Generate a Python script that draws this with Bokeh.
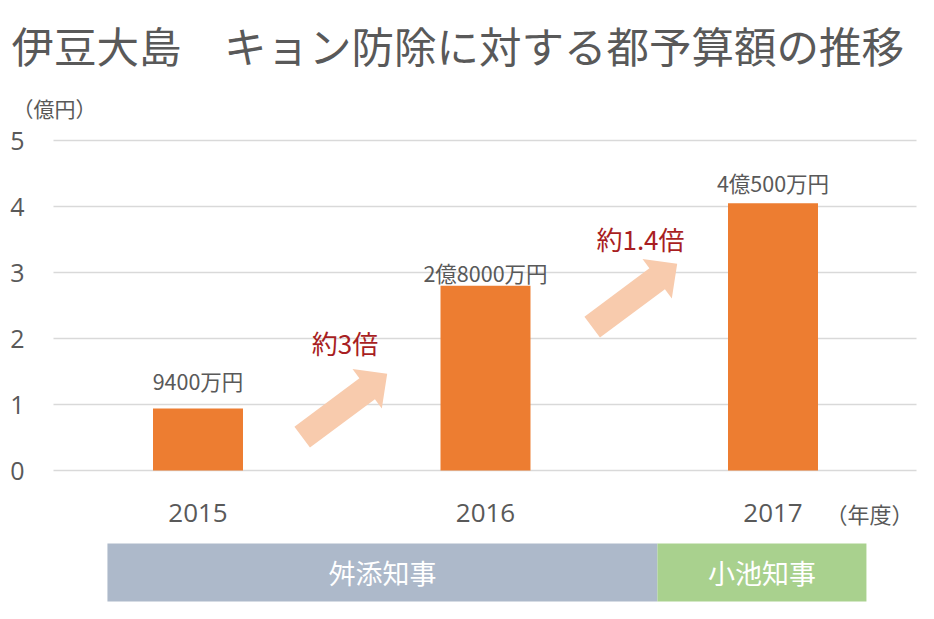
import math
from bokeh.plotting import figure
from bokeh.models import Range1d
from bokeh.core.properties import value
from bokeh.embed import file_html
from bokeh.resources import INLINE

# ---------------- data ----------------
title_text = "伊豆大島　キョン防除に対する都予算額の推移"
unit_text = "（億円）"
year_unit_text = "（年度）"
years = ["2015", "2016", "2017"]
budget = [0.94, 2.80, 4.05]          # 億円
budget_labels = ["9400万円", "2億8000万円", "4億500万円"]
growth_labels = ["約3倍", "約1.4倍"]
y_ticks = [0, 1, 2, 3, 4, 5]
y_tick_labels = ["0", "1", "2", "3", "4", "5"]
governors = ["舛添知事", "小池知事"]
gov_start = [-0.315, 1.598]          # term span along the fiscal-year axis (index units)
gov_end = [1.598, 2.325]

# ---------------- layout helpers (page px -> data) ----------------
X0, XS = 197.5, 287.5    # page x of index 0, px per index
Y0, YS = 470.0, 66.0     # page y of value 0, px per 億円


def dx(px):
    return (px - X0) / XS


def dy(py):
    return (Y0 - py) / YS


FONT = "Noto Sans CJK JP"
GRAY = "#595959"
W, H = 932, 617
ORG = 0   # page offset of the figure

idx = list(range(len(years)))

p = figure(width=W, height=H, output_backend="svg", toolbar_location=None,
           title=None, x_axis_location=None, y_axis_location=None,
           x_range=Range1d(dx(ORG), dx(ORG + W)), y_range=Range1d(dy(ORG + H), dy(ORG)),
           min_border=0)
p.outline_line_color = None
p.background_fill_color = "white"
p.border_fill_color = "white"
p.grid.visible = False

# value gridlines and tick labels
p.segment(x0=[dx(53)] * len(y_ticks), x1=[dx(916)] * len(y_ticks), y0=y_ticks, y1=y_ticks,
          line_color="#D9D9D9", line_width=1.5)
p.text(x=[dx(24)] * len(y_ticks), y=y_ticks, text=y_tick_labels, text_align="right",
       text_baseline="middle", text_color=GRAY, text_font=value("Open Sans"),
       text_font_size="25px")

# bars
p.vbar(x=idx, top=budget, width=0.313, fill_color="#ED7D31", line_color=None)

# value labels above bars
p.text(x=idx, y=budget, text=budget_labels, y_offset=[-28, -13, -21],
       text_align="center", text_baseline="middle", text_color=GRAY,
       text_font=value(FONT), text_font_size="21.5px")

# growth arrows
arrow_tail = [(dx(301.7), dy(436.7)), (dx(591.7), dy(326.7))]
arrow_tip = [(dx(386.7), dy(373.3)), (dx(676.7), dy(263.3))]


def arrow_poly(tail, tip, hl=25.0, hw=24.5, sw=13.0):
    tx, ty = tail[0] * XS, tail[1] * YS
    px, py = tip[0] * XS, tip[1] * YS
    L = math.hypot(px - tx, py - ty)
    ux, uy = (px - tx) / L, (py - ty) / L
    nx, ny = -uy, ux
    bx, by = px - hl * ux, py - hl * uy
    pts = [(tx + sw * nx, ty + sw * ny), (bx + sw * nx, by + sw * ny),
           (bx + hw * nx, by + hw * ny), (px, py),
           (bx - hw * nx, by - hw * ny), (bx - sw * nx, by - sw * ny),
           (tx - sw * nx, ty - sw * ny)]
    return [q[0] / XS for q in pts], [q[1] / YS for q in pts]


axs, ays = zip(*[arrow_poly(t, h) for t, h in zip(arrow_tail, arrow_tip)])
p.patches(xs=list(axs), ys=list(ays), fill_color="#F8CBAD", line_color=None)

p.text(x=[dx(344.5), dx(640)], y=[dy(342), dy(238)], text=growth_labels,
       text_align="center", text_baseline="middle", text_color="#A81E22",
       text_font=value(FONT), text_font_size="26px")

# year labels
p.text(x=idx, y=[dy(512)] * len(idx), text=years, text_align="center",
       text_baseline="middle", text_color=GRAY, text_font=value("Open Sans"),
       text_font_size="26px")
p.text(x=[dx(869)], y=[dy(512)], text=[year_unit_text], text_align="center",
       text_baseline="middle", text_color=GRAY, text_font=value(FONT),
       text_font_size="22px")

# governor bands
p.quad(left=gov_start, right=gov_end, top=dy(543), bottom=dy(601),
       fill_color=["#ADB9CA", "#A9D18E"], line_color=None)
p.text(x=[(s + e) / 2 for s, e in zip(gov_start, gov_end)], y=[dy(572)] * 2,
       text=governors, text_align="center", text_baseline="middle",
       text_color="white", text_font=value(FONT), text_font_size="27px")

# title and unit
p.text(x=[dx(11)], y=[dy(44)], text=[title_text], text_align="left",
       text_baseline="middle", text_color=GRAY, text_font=value(FONT),
       text_font_size="42.5px")
p.text(x=[dx(54)], y=[dy(107)], text=[unit_text], text_align="center",
       text_baseline="middle", text_color=GRAY, text_font=value(FONT),
       text_font_size="21px")

open("out.html", "w").write(file_html(p, INLINE))
